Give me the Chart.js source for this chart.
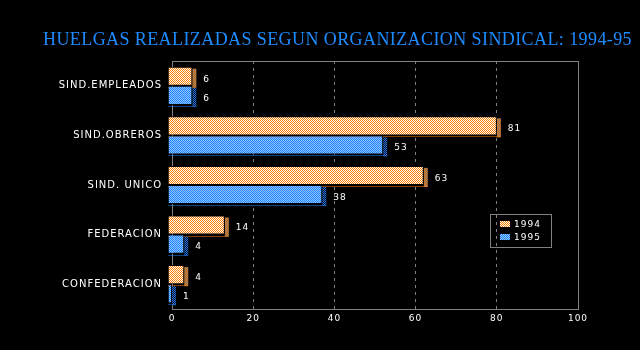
<!DOCTYPE html>
<html>
<head>
<meta charset="utf-8">
<title>Huelgas realizadas segun organizacion sindical</title>
<script src="https://cdn.jsdelivr.net/npm/chart.js@4/dist/chart.umd.min.js"></script>
<style>
  html, body { margin: 0; padding: 0; background: #000; }
  #wrap { width: 640px; height: 350px; }
</style>
</head>
<body>
<div id="wrap"><canvas id="chart" width="640" height="350"></canvas></div>
<script>
"use strict";

const TITLE = "HUELGAS REALIZADAS SEGUN ORGANIZACION SINDICAL: 1994-95";
const categories = ["SIND.EMPLEADOS", "SIND.OBREROS", "SIND. UNICO", "FEDERACION", "CONFEDERACION"];
const seriesNames = ["1994", "1995"];
const values1994 = [6, 81, 63, 14, 4];
const values1995 = [6, 53, 38, 4, 1];
const xTicks = [0, 20, 40, 60, 80, 100];

const DEPTH = 4;
const SMALL_FONT = "'DejaVu Sans', sans-serif";

function checker(a, b) {
  const c = document.createElement("canvas");
  c.width = 2; c.height = 2;
  const g = c.getContext("2d");
  g.fillStyle = b; g.fillRect(0, 0, 2, 2);
  g.fillStyle = a; g.fillRect(0, 0, 1, 1); g.fillRect(1, 1, 1, 1);
  return g.createPattern(c, "repeat");
}

function spacing(c, px) {
  if ("letterSpacing" in c) c.letterSpacing = px + "px";
}

const ctx = document.getElementById("chart").getContext("2d");
const fronts = [checker("#ff8000", "#ffffff"), checker("#2080ff", "#90c8ff")];
const sides = [checker("#ff8000", "#707070"), checker("#2070e0", "#101830")];
const dotColors = ["#ff8000", "#2080ff"];

const backdrop = {
  id: "backdrop",
  // old bitmap-font look: wide letter spacing on every axis label
  beforeLayout(chart) { spacing(chart.ctx, 1); },
  beforeDraw(chart) {
    const c = chart.ctx;
    spacing(c, 1);
    c.save();
    c.fillStyle = "#000";
    c.fillRect(0, 0, chart.width, chart.height);
    c.restore();
  },
  afterDraw(chart) {
    const c = chart.ctx;
    c.save();
    c.fillStyle = "#1e8cff";
    c.font = "18px 'Liberation Serif', 'DejaVu Serif', serif";
    spacing(c, 0);
    const gap = Math.max(0, (589 - c.measureText(TITLE).width) / TITLE.length);
    spacing(c, gap.toFixed(2));
    c.textAlign = "left";
    c.textBaseline = "alphabetic";
    c.fillText(TITLE, 43, 45);

    // legend box
    c.strokeStyle = "#808080";
    c.lineWidth = 1;
    c.strokeRect(490.5, 214.5, 61, 33);
    c.font = "9px " + SMALL_FONT;
    c.textBaseline = "middle";
    spacing(c, 1);
    seriesNames.forEach((name, i) => {
      const y = 221 + i * 13;
      c.fillStyle = fronts[i];
      c.fillRect(500, y, 10, 6);
      c.fillStyle = "#fff";
      c.fillText(name, 514, y + 3.5);
    });
    c.restore();
  }
};

const depthBars = {
  id: "depthBars",
  beforeDatasetsDraw(chart) {
    const c = chart.ctx;
    const area = chart.chartArea;
    c.save();
    c.strokeStyle = "#808080";
    c.lineWidth = 1;
    c.strokeRect(Math.round(area.left) + 0.5, Math.round(area.top) + 0.5,
      Math.round(area.right - area.left), Math.round(area.bottom - area.top));
    c.restore();

    // side faces and dotted floor, then shift the front faces left
    chart.data.datasets.forEach((ds, di) => {
      chart.getDatasetMeta(di).data.forEach(bar => {
        const top = bar.y - bar.height / 2;
        const bottom = bar.y + bar.height / 2;
        c.save();
        c.fillStyle = sides[di];
        c.fillRect(bar.x - DEPTH, top + 2, DEPTH, bottom - top);
        c.strokeStyle = dotColors[di];
        c.setLineDash([1, 1]);
        c.beginPath();
        c.moveTo(bar.base - DEPTH, Math.round(bottom) + 1.5);
        c.lineTo(bar.x, Math.round(bottom) + 1.5);
        c.stroke();
        c.restore();
      });
    });
    c.save();
    c.translate(-DEPTH, 0);
  },
  afterDatasetsDraw(chart) {
    const c = chart.ctx;
    c.restore();
    c.save();
    c.fillStyle = "#fff";
    c.font = "9px " + SMALL_FONT;
    c.textAlign = "left";
    c.textBaseline = "middle";
    spacing(c, 1);
    chart.data.datasets.forEach((ds, di) => {
      chart.getDatasetMeta(di).data.forEach((bar, i) => {
        c.fillText(String(ds.data[i]), bar.x + 7, bar.y + 3);
      });
    });
    c.restore();
  }
};

new Chart(ctx, {
  type: "bar",
  data: {
    labels: categories,
    datasets: [
      { label: seriesNames[0], data: values1994, backgroundColor: fronts[0] },
      { label: seriesNames[1], data: values1995, backgroundColor: fronts[1] }
    ]
  },
  options: {
    indexAxis: "y",
    responsive: false,
    animation: false,
    devicePixelRatio: 1,
    layout: { padding: { top: 61, right: 62, left: 0, bottom: 0 } },
    datasets: {
      bar: {
        categoryPercentage: 0.77,
        barPercentage: 1,
        borderColor: "#000",
        borderWidth: 1,
        borderSkipped: "start"
      }
    },
    plugins: {
      legend: { display: false },
      title: { display: false },
      tooltip: { enabled: false }
    },
    scales: {
      x: {
        min: 0,
        max: 100,
        afterBuildTicks: scale => { scale.ticks = xTicks.map(value => ({ value })); },
        afterFit: scale => { scale.height = 41; },
        grid: { color: "#808080", drawTicks: false },
        border: { display: false, dash: [3, 4] },
        ticks: { color: "#fff", padding: 4, font: { family: SMALL_FONT, size: 9 } }
      },
      y: {
        afterFit: scale => { scale.width = 172; },
        grid: { display: false, drawTicks: false },
        border: { display: false },
        ticks: { color: "#fff", padding: 10, font: { family: SMALL_FONT, size: 10 } }
      }
    }
  },
  plugins: [backdrop, depthBars]
});
</script>
</body>
</html>
